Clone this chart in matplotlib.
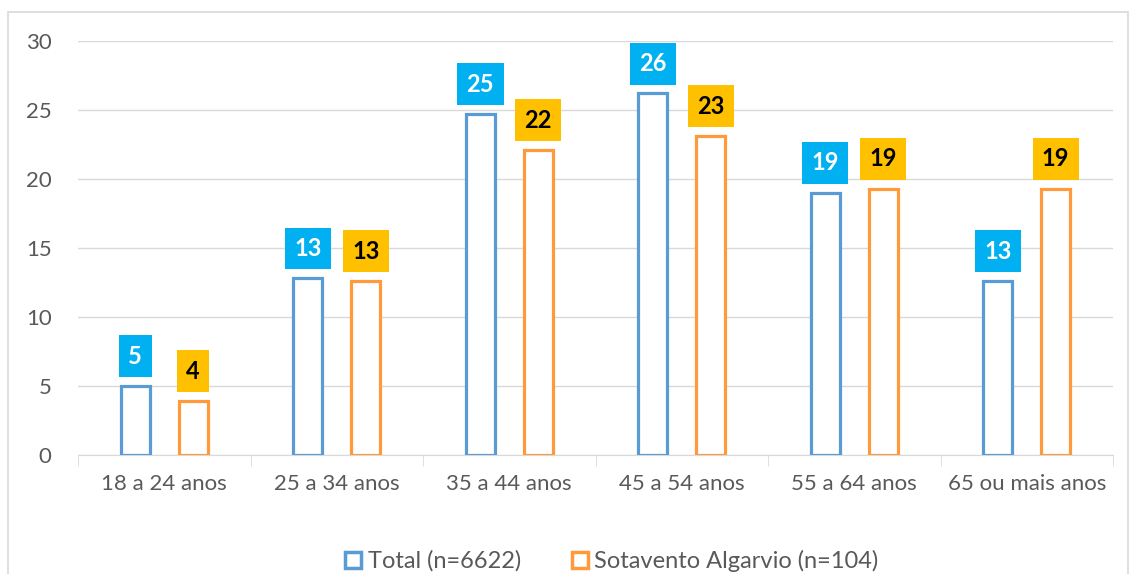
import matplotlib
matplotlib.use("Agg")
import matplotlib.pyplot as plt
from matplotlib.patches import Rectangle
from matplotlib.lines import Line2D
import numpy as np

categories = ["18 a 24 anos", "25 a 34 anos", "35 a 44 anos", "45 a 54 anos", "55 a 64 anos", "65 ou mais anos"]
total = [5.0, 12.8, 24.7, 26.2, 19.0, 12.6]
sotavento = [3.9, 12.6, 22.1, 23.1, 19.3, 19.3]
total_labels = ["5", "13", "25", "26", "19", "13"]
sotavento_labels = ["4", "13", "22", "23", "19", "19"]
series_names = ["Total (n=6622)", "Sotavento Algarvio (n=104)"]

W, H = 1134, 574
fig = plt.figure(figsize=(W/100, H/100), dpi=100)
plt.rcParams['font.family'] = ['Lato', 'DejaVu Sans']

# outer chart border
fig.patches.append(Rectangle((8/W, -0.1), (1128-8)/W, (H-12)/H + 0.1, transform=fig.transFigure,
                             fill=False, edgecolor="#D9D9D9", lw=1.2))

ax = fig.add_axes([78/W, 119/H, (1113-78)/W, (455-41)/H])
x = np.arange(len(categories))
bw = 0.17
off = 0.168
c_tot = "#5B9BD5"
c_sot = "#FF9A3C"

ax.bar(x - off, total, bw, facecolor="white", edgecolor=c_tot, lw=2.3, zorder=3)
ax.bar(x + off, sotavento, bw, facecolor="white", edgecolor=c_sot, lw=2.3, zorder=3)

for xi, v, lab in zip(x, total, total_labels):
    ax.annotate(lab, (xi - off, v), xytext=(0, 21.5), textcoords="offset points",
                ha="center", va="center", fontsize=17, fontweight="bold", color="white",
                bbox=dict(boxstyle="square,pad=0.4", fc="#00B0F0", ec="none"), zorder=4)
for xi, v, lab in zip(x, sotavento, sotavento_labels):
    ax.annotate(lab, (xi + off, v), xytext=(0, 21.5), textcoords="offset points",
                ha="center", va="center", fontsize=17, fontweight="bold", color="black",
                bbox=dict(boxstyle="square,pad=0.4", fc="#FFC000", ec="none"), zorder=4)

ax.set_xlim(-0.5, len(categories) - 0.5)
ax.set_ylim(0, 30)
ax.set_yticks(range(0, 31, 5))
ax.yaxis.grid(True, color="#D9D9D9", lw=1)
ax.set_axisbelow(True)
for s in ["top", "right", "left"]:
    ax.spines[s].set_visible(False)
ax.spines["bottom"].set_color("#D9D9D9")
ax.tick_params(axis="y", length=0, labelsize=16, labelcolor="#595959", pad=19)
ax.set_xticks(x)
ax.set_xticklabels(categories)
ax.tick_params(axis="x", length=0, labelsize=16, labelcolor="#595959", pad=14)
ax.set_xticks(np.arange(-0.5, len(categories), 1), minor=True)
ax.tick_params(axis="x", which="minor", length=8, color="#D9D9D9")

handles = [Line2D([], [], marker="s", ls="none", markersize=12, markerfacecolor="white",
                  markeredgecolor=c, markeredgewidth=2.5) for c in (c_tot, c_sot)]
fig.legend(handles, series_names, loc="center", bbox_to_anchor=(610/W, 1 - 561/H), ncol=2,
           frameon=False, fontsize=17, labelcolor="#595959", handletextpad=0.1,
           columnspacing=2.0, handlelength=1)

fig.savefig("out.png", dpi=100)
